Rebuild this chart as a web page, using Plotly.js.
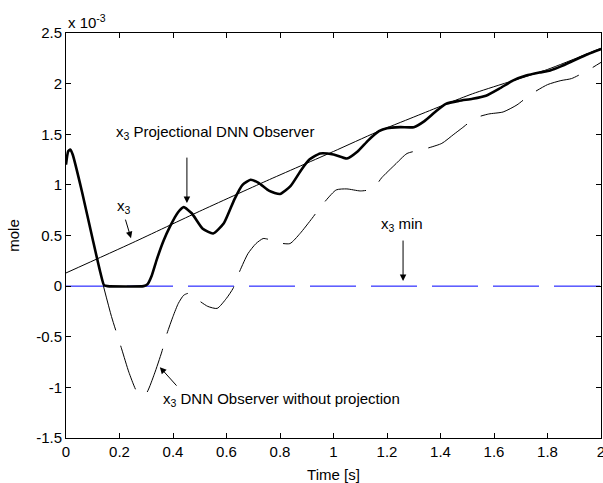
<!DOCTYPE html>
<html>
<head>
<meta charset="utf-8">
<script src="https://cdn.plot.ly/plotly-3.0.1.min.js"></script>
<style>html,body{margin:0;padding:0;background:#fff;}#chart{width:603px;height:483px;}</style>
</head>
<body>
<div id="chart"></div>
<script>
// values in units of 1e-3 mole
const trueX = [0, 0.25, 0.5, 0.75, 1.0, 1.16, 1.3, 1.52, 1.8, 2.0];
const trueY = [0.13, 0.43, 0.74, 1.04, 1.33, 1.52, 1.67, 1.90, 2.14, 2.35];

const projX = [0, 0.008, 0.016, 0.025, 0.06, 0.1, 0.128, 0.142, 0.155, 0.29, 0.305, 0.32, 0.339, 0.365, 0.389, 0.419, 0.44, 0.47, 0.51, 0.55, 0.59, 0.63, 0.66, 0.69, 0.72, 0.76, 0.8, 0.84, 0.88, 0.91, 0.95, 1.0, 1.05, 1.09, 1.13, 1.17, 1.2, 1.25, 1.3, 1.34, 1.38, 1.42, 1.47, 1.52, 1.57, 1.62, 1.67, 1.72, 1.77, 1.81, 1.85, 1.9, 1.95, 2.0];
const projY = [1.2, 1.33, 1.35, 1.3, 0.93, 0.46, 0.14, 0.01, 0.0, 0.0, 0.02, 0.1, 0.26, 0.45, 0.59, 0.73, 0.78, 0.72, 0.57, 0.52, 0.62, 0.86, 1.0, 1.05, 1.02, 0.94, 0.91, 0.99, 1.15, 1.25, 1.31, 1.3, 1.26, 1.33, 1.44, 1.53, 1.56, 1.57, 1.57, 1.63, 1.72, 1.80, 1.83, 1.85, 1.88, 1.95, 2.03, 2.08, 2.11, 2.13, 2.17, 2.23, 2.29, 2.34];

const nopX = [0.14, 0.17, 0.208, 0.235, 0.264, 0.28, 0.30, 0.33, 0.358, 0.376, 0.40, 0.42, 0.44, 0.46, 0.49, 0.53, 0.565, 0.60, 0.625, 0.645, 0.68, 0.71, 0.737, 0.76, 0.79, 0.837, 0.875, 0.92, 0.957, 1.01, 1.05, 1.10, 1.13, 1.16, 1.18, 1.23, 1.275, 1.335, 1.405, 1.45, 1.48, 1.53, 1.58, 1.634, 1.686, 1.735, 1.80, 1.85, 1.89, 1.95, 2.0];
const nopY = [0, -0.3, -0.62, -0.85, -1.04, -1.08, -1.06, -0.87, -0.65, -0.48, -0.3, -0.17, -0.09, -0.07, -0.13, -0.2, -0.22, -0.12, -0.02, 0.12, 0.32, 0.42, 0.47, 0.46, 0.43, 0.42, 0.52, 0.67, 0.8, 0.95, 0.96, 0.94, 0.95, 1.0, 1.07, 1.2, 1.31, 1.35, 1.41, 1.5, 1.56, 1.66, 1.70, 1.72, 1.79, 1.89, 1.99, 2.03, 2.05, 2.13, 2.21];

const minX = [0, 2];
const minY = [0, 0];

const xTicks = [0, 0.2, 0.4, 0.6, 0.8, 1, 1.2, 1.4, 1.6, 1.8, 2];
const xTickText = ['0', '0.2', '0.4', '0.6', '0.8', '1', '1.2', '1.4', '1.6', '1.8', '2'];
const yTicks = [-1.5, -1, -0.5, 0, 0.5, 1, 1.5, 2, 2.5];
const yTickText = ['-1.5', '-1', '-0.5', '0', '0.5', '1', '1.5', '2', '2.5'];

const font = {family: '"Liberation Sans", Arial, sans-serif', size: 15, color: '#000'};

const traces = [
  {x: minX, y: minY, mode: 'lines', line: {color: '#0000ff', width: 1, dash: '46px,15px'}, hoverinfo: 'skip'},
  {x: trueX, y: trueY, mode: 'lines', line: {color: '#000', width: 1, shape: 'spline', smoothing: 0.6}},
  {x: nopX, y: nopY, mode: 'lines', line: {color: '#000', width: 1, dash: '46px,16px', shape: 'spline', smoothing: 0.6}},
  {x: projX, y: projY, mode: 'lines', line: {color: '#000', width: 2.6, shape: 'spline', smoothing: 0.5}}
];

const arrowBase = {showarrow: true, arrowhead: 2, arrowsize: 1.3, arrowwidth: 1, arrowcolor: '#000', text: '', xref: 'x', yref: 'y', axref: 'pixel', ayref: 'pixel'};

const layout = {
  width: 603, height: 483,
  margin: {l: 66, r: 2, t: 33, b: 45},
  paper_bgcolor: '#fff', plot_bgcolor: '#fff',
  showlegend: false,
  font: font,
  xaxis: {range: [0, 2], tickvals: xTicks, ticktext: xTickText, ticks: 'inside', ticklen: 5, tickcolor: '#000',
          showline: true, linecolor: '#000', linewidth: 1, mirror: 'ticks', showgrid: false, zeroline: false,
          ticklabeloverflow: 'allow',
          title: {text: 'Time [s]', font: font, standoff: 10}, tickfont: font},
  yaxis: {range: [-1.5, 2.5], tickvals: yTicks, ticktext: yTickText, ticks: 'inside', ticklen: 5, tickcolor: '#000',
          showline: true, linecolor: '#000', linewidth: 1, mirror: 'ticks', showgrid: false, zeroline: false,
          ticklabeloverflow: 'allow',
          title: {text: 'mole', font: font, standoff: 12}, tickfont: font},
  annotations: [
    {xref: 'paper', yref: 'paper', x: 0.0, y: 1.0, xanchor: 'left', yanchor: 'bottom', showarrow: false,
     text: 'x 10<sup>-3</sup>', font: font},
    {x: 0.18, y: 1.52, xanchor: 'left', yanchor: 'middle', showarrow: false, text: 'x<sub>3</sub> Projectional DNN Observer', font: font},
    Object.assign({}, arrowBase, {x: 0.452, y: 0.82, ax: 0, ay: -47}),
    {x: 0.185, y: 0.79, xanchor: 'left', yanchor: 'middle', showarrow: false, text: 'x<sub>3</sub>', font: font},
    Object.assign({}, arrowBase, {x: 0.243, y: 0.474, ax: -6, ay: -20}),
    {x: 1.17, y: 0.61, xanchor: 'left', yanchor: 'middle', showarrow: false, text: 'x<sub>3</sub> min', font: font},
    Object.assign({}, arrowBase, {x: 1.26, y: 0.05, ax: 0, ay: -42}),
    {x: 0.355, y: -1.12, xanchor: 'left', yanchor: 'middle', showarrow: false, text: 'x<sub>3</sub> DNN Observer without projection', font: font},
    Object.assign({}, arrowBase, {x: 0.351, y: -0.80, ax: 18, ay: 20})
  ]
};

Plotly.newPlot('chart', traces, layout, {displayModeBar: false, staticPlot: true});
</script>
</body>
</html>
